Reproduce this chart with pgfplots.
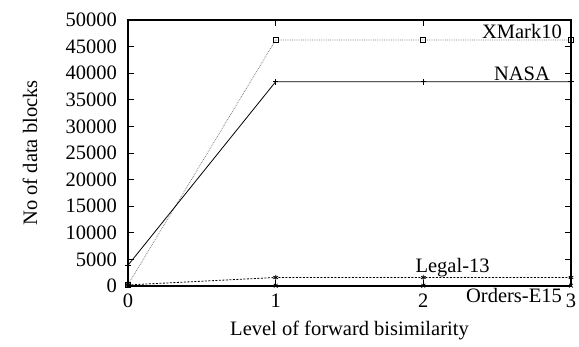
\documentclass[border=0pt]{standalone}
\usepackage{pgfplots}
\pgfplotsset{compat=1.18}
\usepackage{fontspec}
\setmainfont{Liberation Serif}
\newcommand{\bigf}{\fontsize{20.5}{24}\selectfont}
\begin{document}
\bigf
\begin{tikzpicture}[font=\bigf]
\begin{axis}[
  name=ax,
  scale only axis,
  width=443pt, height=266pt,
  xmin=0, xmax=3, ymin=0, ymax=50000,
  xtick={0,1,2,3},
  ytick={0,5000,10000,15000,20000,25000,30000,35000,40000,45000,50000},
  /pgf/number format/assume math mode=true,
  /pgf/number format/1000 sep={},
  scaled y ticks=false,
  tick align=inside,
  major tick length=6pt,
  tick style={black, line width=0.8pt},
  axis line style={line width=1.2pt},
  tick label style={font=\bigf},
  label style={font=\bigf},
  xlabel={Level of forward bisimilarity},
  ylabel={No of data blocks},
  ylabel style={at={(axis description cs:-0.221,0.5)}, anchor=center, rotate=0},
  xlabel style={at={(axis description cs:0.5,-0.169)}, anchor=center},
  yticklabel style={xshift=-4pt},
  xticklabel style={yshift=-1pt},
  clip=false,
]
\addplot[gray, densely dotted, line width=0.8pt, mark=square, mark size=2.6pt, mark options={solid, black, line width=0.9pt}]
  coordinates {(0,250) (1,46250) (2,46250) (3,46250)};
\addplot[black, line width=0.8pt, mark=+, mark size=2.8pt, mark options={solid, line width=0.8pt}]
  coordinates {(0,3900) (1,38400) (2,38400) (3,38400)};
\addplot[black, dash pattern=on 2pt off 1.5pt, line width=0.8pt, mark=asterisk, mark size=2.6pt, mark options={solid, line width=0.8pt}]
  coordinates {(0,200) (1,1600) (2,1600) (3,1600)};
\addplot[black, line width=1.2pt, mark=x, mark size=2.6pt, mark options={solid, line width=0.8pt}]
  coordinates {(0,60) (1,60) (2,60) (3,60)};
\node[anchor=east, inner sep=0pt] at (axis cs:2.939,47932) {XMark10};
\node[anchor=east, inner sep=0pt] at (axis cs:2.858,39850) {NASA};
\node[anchor=east, inner sep=0pt] at (axis cs:2.45,3383) {Legal-13};
\node[anchor=east, inner sep=0pt] at (axis cs:2.939,-1692) {Orders-E15};
\end{axis}
\pgfresetboundingbox
\path (ax.south west) ++(-128pt,-61pt) rectangle ++(579pt,347pt);
\end{tikzpicture}
\end{document}
